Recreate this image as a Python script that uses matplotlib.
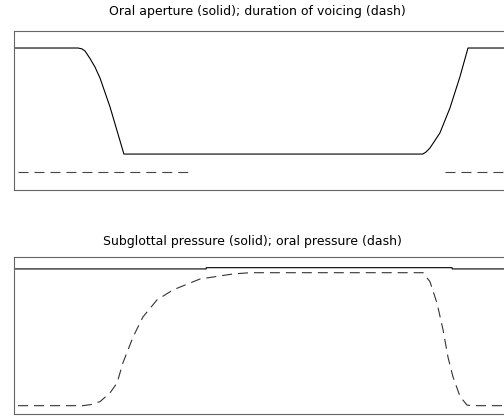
import numpy as np
import matplotlib.pyplot as plt

# time axis (ms), shared by both panels
t_aperture = [0, 31.6, 33.5, 35.1, 37.5, 40.0, 42.5, 47.4, 54.3, 201.9, 203.5, 205.5, 210.4, 215.4, 220.3, 224.3, 260.0]
aperture = [0.893, 0.893, 0.888, 0.874, 0.828, 0.774, 0.704, 0.524, 0.226, 0.226, 0.238, 0.264, 0.358, 0.516, 0.711, 0.893, 0.893]

t_voice_1 = [2.0, 86.0]
voice_1 = [0.113, 0.113]
t_voice_2 = [213.0, 260.0]
voice_2 = [0.113, 0.113]

t_subglottal = [0, 94.9, 95.0, 216.4, 216.5, 260.0]
subglottal = [0.924, 0.924, 0.932, 0.932, 0.924, 0.924]

t_oral = [2.0, 34.0, 38.0, 42.5, 47.4, 50.9, 53.8, 58.8, 63.7, 70.6, 78.5, 91.9, 108.2, 116.6, 202.1, 205.5, 209.0, 212.0, 214.4, 216.9, 220.4, 223.8, 226.0, 260.0]
oral = [0.053, 0.053, 0.060, 0.079, 0.134, 0.197, 0.325, 0.49, 0.618, 0.726, 0.79, 0.86, 0.892, 0.9, 0.9, 0.843, 0.706, 0.535, 0.363, 0.236, 0.111, 0.057, 0.053, 0.053]

W, H = 504, 416
fig = plt.figure(figsize=(W / 100, H / 100), dpi=100)

frame = '#666666'
lw = 0.8
# dash 10px / gap 6px (dashes get scaled by the line width)
dash = (0, (7.2 / lw, 4.3 / lw))


def make_ax(top, bottom):
    ax = fig.add_axes([14 / W, (H - bottom) / H, 506 / W, (bottom - top) / H])
    ax.set_xlim(0, 250)
    ax.set_ylim(0, 1)
    ax.set_xticks([])
    ax.set_yticks([])
    for s in ax.spines.values():
        s.set_color(frame)
        s.set_linewidth(0.8)
    return ax


ax1 = make_ax(31, 190)
ax1.plot(t_aperture, aperture, color='black', lw=lw)
ax1.plot(t_voice_1, voice_1, color='#444444', lw=lw, linestyle=dash)
ax1.plot(t_voice_2, voice_2, color='#444444', lw=lw, linestyle=dash)

ax2 = make_ax(257, 414)
ax2.plot(t_subglottal, subglottal, color='black', lw=lw)
ax2.plot(t_oral, oral, color='#333333', lw=lw, linestyle=dash)

fig.text(257 / W, 1 - 12 / H, 'Oral aperture (solid); duration of voicing (dash)',
         ha='center', va='center', fontsize=9, family='DejaVu Sans')
fig.text(252 / W, 1 - 241 / H, 'Subglottal pressure (solid); oral pressure (dash)',
         ha='center', va='center', fontsize=9, family='DejaVu Sans')

fig.savefig('out.png', dpi=100)
